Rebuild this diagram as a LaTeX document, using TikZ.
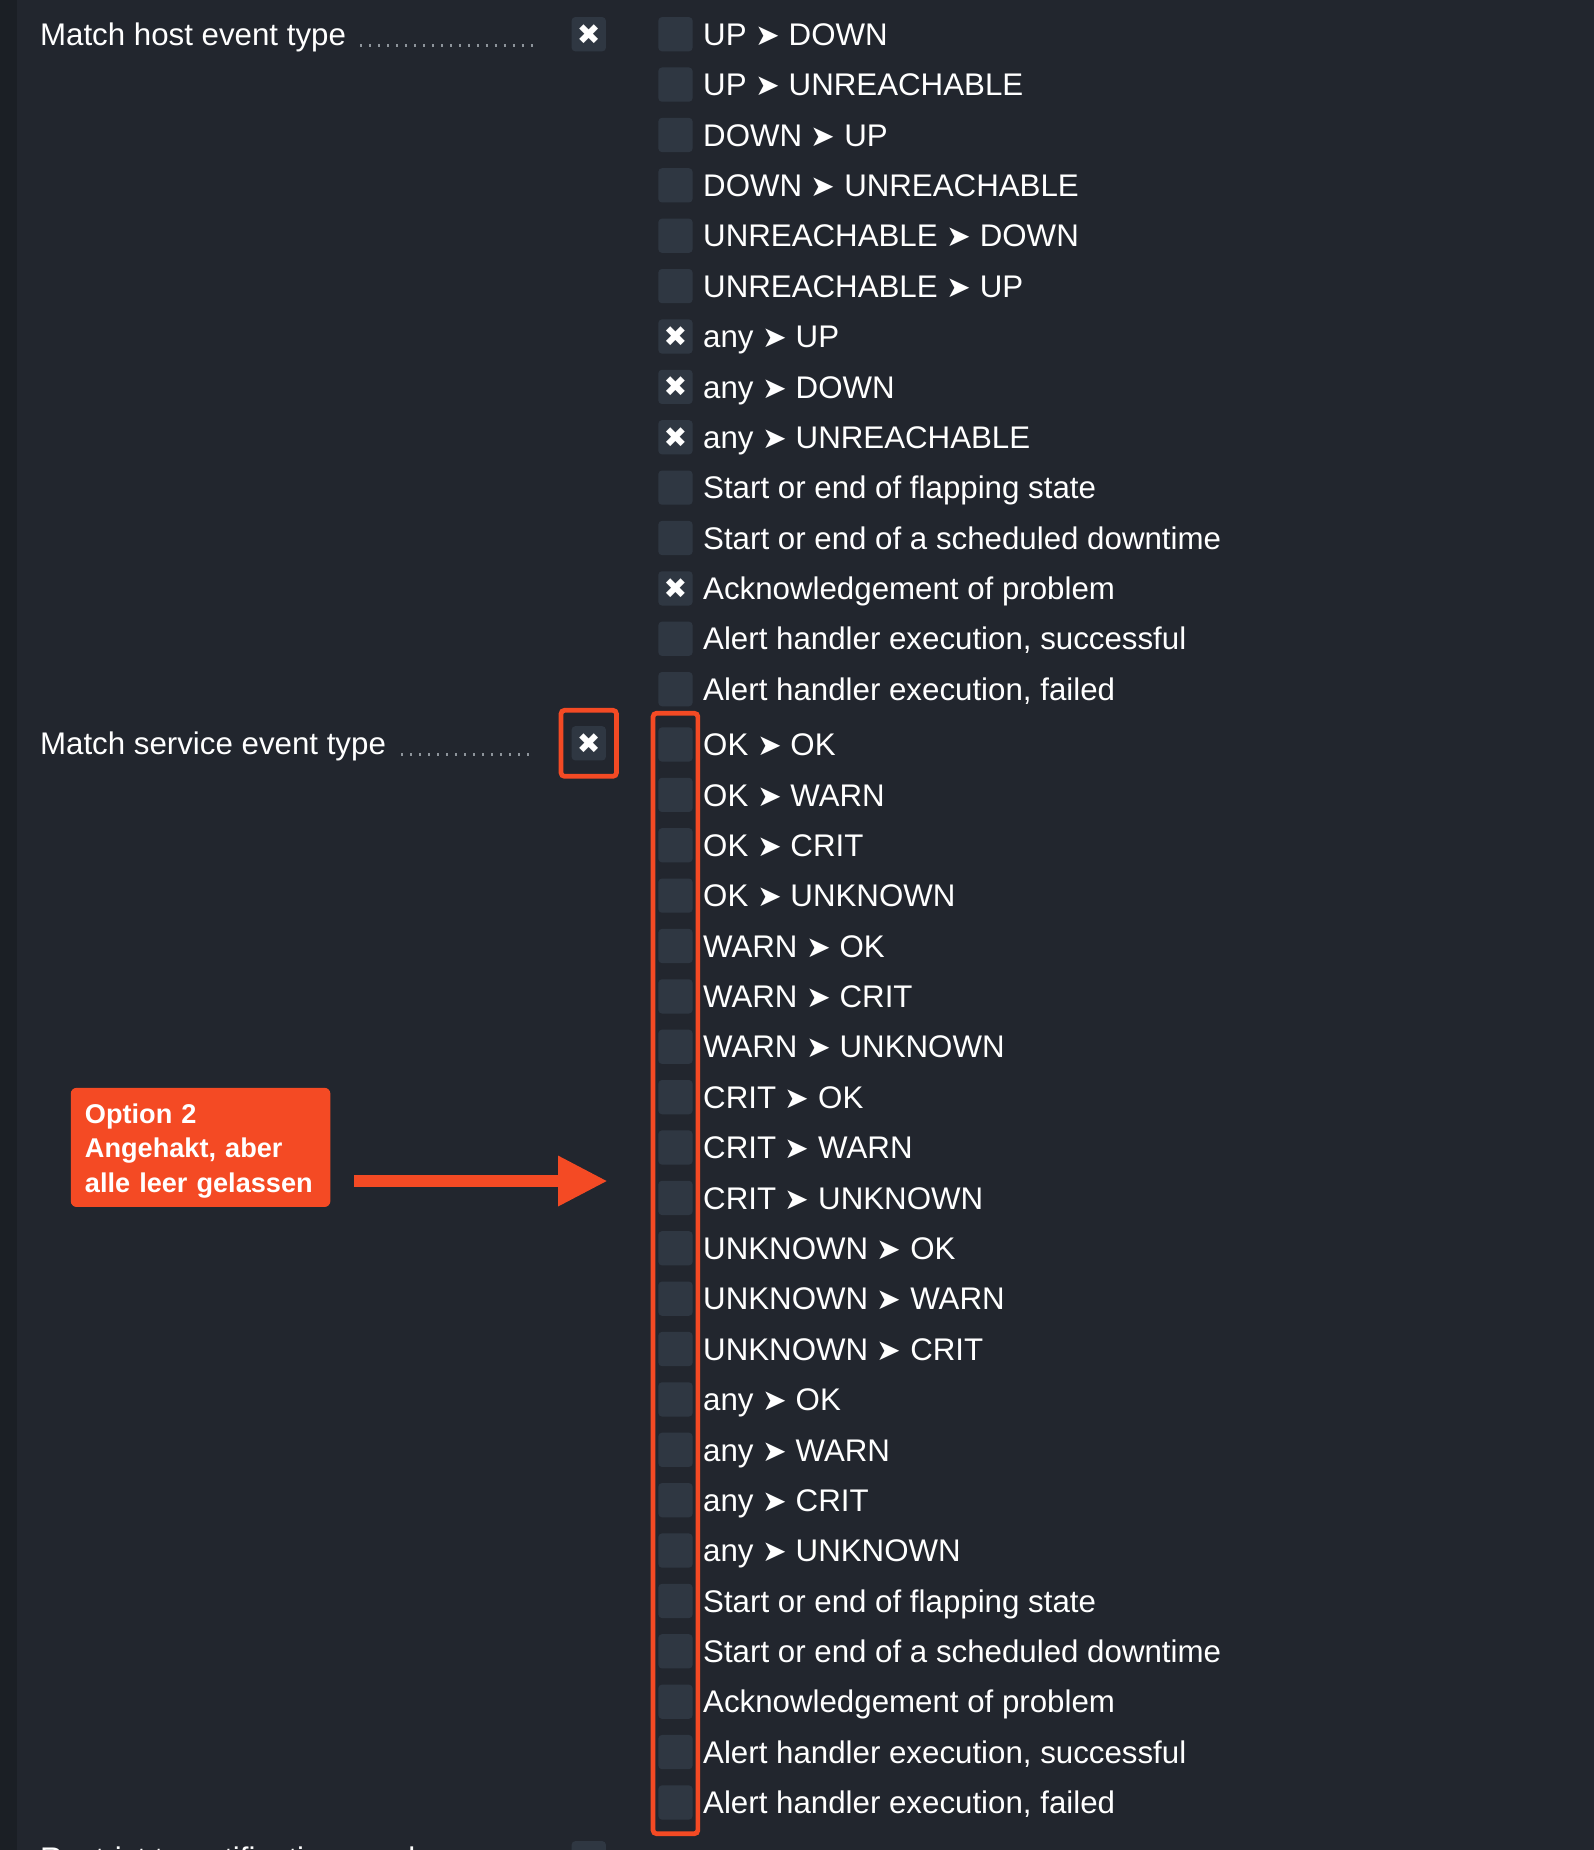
\documentclass[tikz,border=0pt]{standalone}
\usepackage{fontspec}
\setmainfont{Liberation Sans}
\newfontfamily\symfont{DejaVu Sans}
\usetikzlibrary{positioning, fit, arrows.meta}

\definecolor{pagebg}{HTML}{22262E}
\definecolor{stripbg}{HTML}{1B1F25}
\definecolor{boxgray}{HTML}{2F3742}
\definecolor{dotgray}{HTML}{8E949B}
\definecolor{notered}{HTML}{F44A24}

\newcommand{\trans}{{\symfont\fontsize{25}{30}\selectfont\char"27A4}}
\newcommand{\xmark}{{\symfont\fontsize{24}{24}\selectfont\char"2716}}

\begin{document}
\begin{tikzpicture}[
      x=1pt, y=-1pt,
      font=\fontsize{26.5}{30}\selectfont,
      node distance=13.7pt and 9pt,
      box/.style={rectangle, fill=boxgray, rounded corners=3pt, minimum size=29pt, inner sep=0pt, outer sep=0pt, text=white},
      item/.style={inner sep=0pt, outer sep=0pt, text=white, text height=19pt, text depth=0pt},
      leader/.style={dotgray, line width=2pt, dash pattern=on 1.8pt off 5.8pt},
      frame/.style={draw=notered, line width=4pt, rounded corners=3pt},
      note/.style={fill=notered, rounded corners=5pt, text=white, align=left, text width=196pt, inner xsep=12pt, minimum height=101pt, font=\bfseries\fontsize{23}{29}\selectfont},
      pointer/.style={notered, line width=10pt, shorten <=20pt, -{Triangle[length=42pt, width=40pt]}}
    ]
      \useasboundingbox (0,0) rectangle (1351,1568);
      \fill [pagebg] (0,0) rectangle (1351,1568);
      \fill [stripbg] (0,0) rectangle (14,1568);

      % host events
      \node (hostlbl) [item, anchor=west] at (34,29) {Match host event type};
      \coordinate (hostend) at (457,38.5);
      \draw [leader] ([xshift=12pt]hostlbl.base east) -- (hostend);
      \node (hostbox) [box] at (499,29) {\xmark};

      \node (h1) [box] at (572.5,29) {};
      \node (h1l) [item, right=of h1] {UP \trans{} DOWN};
      \node (h2) [box, below=of h1] {};
      \node (h2l) [item, right=of h2] {UP \trans{} UNREACHABLE};
      \node (h3) [box, below=of h2] {};
      \node (h3l) [item, right=of h3] {DOWN \trans{} UP};
      \node (h4) [box, below=of h3] {};
      \node (h4l) [item, right=of h4] {DOWN \trans{} UNREACHABLE};
      \node (h5) [box, below=of h4] {};
      \node (h5l) [item, right=of h5] {UNREACHABLE \trans{} DOWN};
      \node (h6) [box, below=of h5] {};
      \node (h6l) [item, right=of h6] {UNREACHABLE \trans{} UP};
      \node (h7) [box, below=of h6] {\xmark};
      \node (h7l) [item, right=of h7] {any \trans{} UP};
      \node (h8) [box, below=of h7] {\xmark};
      \node (h8l) [item, right=of h8] {any \trans{} DOWN};
      \node (h9) [box, below=of h8] {\xmark};
      \node (h9l) [item, right=of h9] {any \trans{} UNREACHABLE};
      \node (h10) [box, below=of h9] {};
      \node (h10l) [item, right=of h10] {Start or end of flapping state};
      \node (h11) [box, below=of h10] {};
      \node (h11l) [item, right=of h11] {Start or end of a scheduled downtime};
      \node (h12) [box, below=of h11] {\xmark};
      \node (h12l) [item, right=of h12] {Acknowledgement of problem};
      \node (h13) [box, below=of h12] {};
      \node (h13l) [item, right=of h13] {Alert handler execution, successful};
      \node (h14) [box, below=of h13] {};
      \node (h14l) [item, right=of h14] {Alert handler execution, failed};

      % service events
      \node (svclbl) [item, anchor=west] at (34,630) {Match service event type};
      \coordinate (svcend) at (453,639.5);
      \draw [leader] ([xshift=13pt]svclbl.base east) -- (svcend);
      \node (svcbox) [box] at (499,630) {\xmark};

      \node (s1) [box] at (572.5,631) {};
      \node (s1l) [item, right=of s1] {OK \trans{} OK};
      \node (s2) [box, below=of s1] {};
      \node (s2l) [item, right=of s2] {OK \trans{} WARN};
      \node (s3) [box, below=of s2] {};
      \node (s3l) [item, right=of s3] {OK \trans{} CRIT};
      \node (s4) [box, below=of s3] {};
      \node (s4l) [item, right=of s4] {OK \trans{} UNKNOWN};
      \node (s5) [box, below=of s4] {};
      \node (s5l) [item, right=of s5] {WARN \trans{} OK};
      \node (s6) [box, below=of s5] {};
      \node (s6l) [item, right=of s6] {WARN \trans{} CRIT};
      \node (s7) [box, below=of s6] {};
      \node (s7l) [item, right=of s7] {WARN \trans{} UNKNOWN};
      \node (s8) [box, below=of s7] {};
      \node (s8l) [item, right=of s8] {CRIT \trans{} OK};
      \node (s9) [box, below=of s8] {};
      \node (s9l) [item, right=of s9] {CRIT \trans{} WARN};
      \node (s10) [box, below=of s9] {};
      \node (s10l) [item, right=of s10] {CRIT \trans{} UNKNOWN};
      \node (s11) [box, below=of s10] {};
      \node (s11l) [item, right=of s11] {UNKNOWN \trans{} OK};
      \node (s12) [box, below=of s11] {};
      \node (s12l) [item, right=of s12] {UNKNOWN \trans{} WARN};
      \node (s13) [box, below=of s12] {};
      \node (s13l) [item, right=of s13] {UNKNOWN \trans{} CRIT};
      \node (s14) [box, below=of s13] {};
      \node (s14l) [item, right=of s14] {any \trans{} OK};
      \node (s15) [box, below=of s14] {};
      \node (s15l) [item, right=of s15] {any \trans{} WARN};
      \node (s16) [box, below=of s15] {};
      \node (s16l) [item, right=of s16] {any \trans{} CRIT};
      \node (s17) [box, below=of s16] {};
      \node (s17l) [item, right=of s17] {any \trans{} UNKNOWN};
      \node (s18) [box, below=of s17] {};
      \node (s18l) [item, right=of s18] {Start or end of flapping state};
      \node (s19) [box, below=of s18] {};
      \node (s19l) [item, right=of s19] {Start or end of a scheduled downtime};
      \node (s20) [box, below=of s19] {};
      \node (s20l) [item, right=of s20] {Acknowledgement of problem};
      \node (s21) [box, below=of s20] {};
      \node (s21l) [item, right=of s21] {Alert handler execution, successful};
      \node (s22) [box, below=of s21] {};
      \node (s22l) [item, right=of s22] {Alert handler execution, failed};

      % cut off at the bottom
      \node (restrictlbl) [item, anchor=west] at (34,1575) {Restrict to notification numbers};
      \node (restrictbox) [box] at (499,1575) {};

      % annotation
      \node (svcframe) [frame, fit=(svcbox), inner xsep=9pt, inner ysep=13.5pt] {};
      \node (listframe) [frame, fit=(s1)(s22), inner xsep=4.5pt, inner ysep=12pt] {};
      \node (note) [note] at (170,972.5) {\rule{0pt}{22.5pt}Option 2\\Angehakt, aber\\alle leer gelassen};
      \coordinate (tip) at (515,1001);
      \draw [pointer] (note.east |- tip) -- (tip);
    \end{tikzpicture}
\end{document}
